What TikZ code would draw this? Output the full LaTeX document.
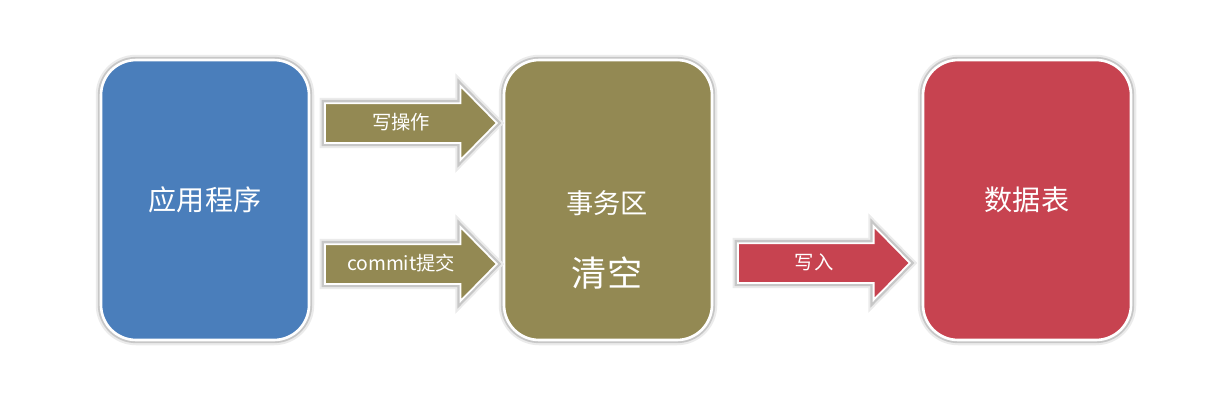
\documentclass[tikz,border=0pt]{standalone}
\usepackage{fontspec}
\newfontfamily\cjk{Noto Sans CJK SC}
\usetikzlibrary{shapes.arrows,shadows}

\definecolor{appblue}{HTML}{4A7EBB}
\definecolor{txnolive}{HTML}{938953}
\definecolor{tabred}{HTML}{C74350}

\tikzset{
  halo/.style={preaction={draw=black!8, line width=6pt},
    preaction={draw=black!22, line width=3.6pt}},
  stagebox/.style={halo, rounded corners=0.7cm, draw=white, line width=1.5pt,
    minimum width=4.16cm, minimum height=5.6cm, inner sep=0pt,
    text=white, font=\cjk\fontsize{16}{19}\selectfont},
  flowarrow/.style={halo, single arrow, draw=white, line width=1pt,
    single arrow head extend=0.34cm, single arrow tip angle=91,
    minimum height=3.44cm, text height=0.3cm, text depth=0.06cm,
    inner xsep=0.1cm, inner ysep=0.2cm, anchor=tail,
    text=white, font=\cjk\fontsize{11}{13}\selectfont},
}

\begin{document}
\begin{tikzpicture}[x=0.02cm,y=-0.02cm]
\useasboundingbox (0,0) rectangle (1226,403);
% the three stages
\node[stagebox, fill=appblue] (app) at (205,200) {应用程序};
\node[stagebox, fill=txnolive] (txn) at (608,200) {};
\node[stagebox, fill=tabred] (table) at (1027,200) {数据表};
\node[text=white, font=\cjk\fontsize{15.5}{18}\selectfont] (txnname) at (607,203) {事务区};
\node[text=white, font=\cjk\fontsize{20}{24}\selectfont] (clear) at (607,273) {清空};
% arrows between the stages
\node[flowarrow, fill=txnolive] (write) at (324,123) {写操作};
\node[flowarrow, fill=txnolive] (commit) at (324,264) {commit提交};
\node[flowarrow, fill=tabred] (insert) at (737,263) {写入};
\end{tikzpicture}
\end{document}
